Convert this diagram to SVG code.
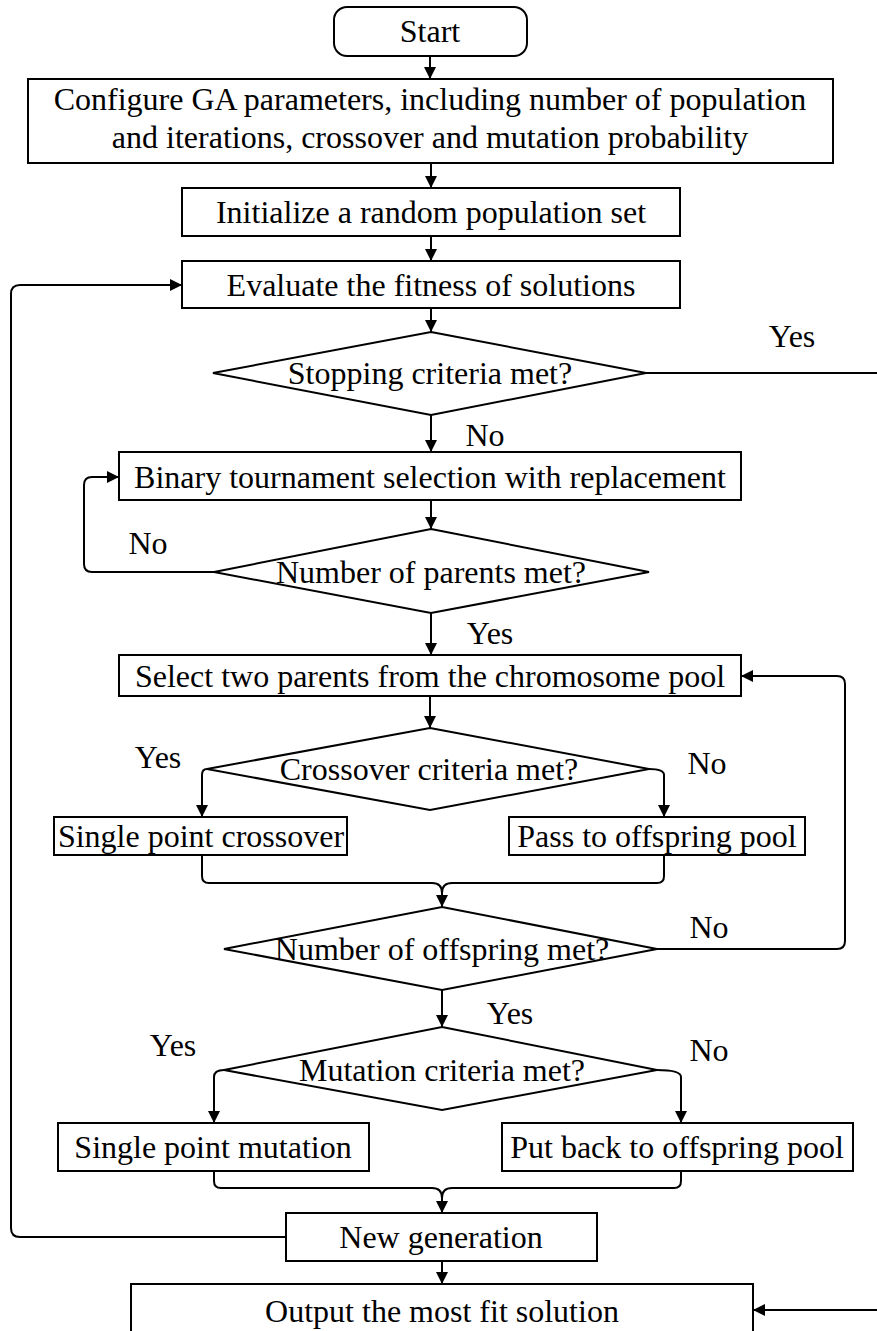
<svg xmlns="http://www.w3.org/2000/svg" width="877" height="1331" viewBox="0 0 877 1331">
  <style>
    .box { fill: #fff; stroke: #000; stroke-width: 2; }
    .edge { fill: none; stroke: #000; stroke-width: 2; }
    text { font-family: "Liberation Serif", "Times New Roman", serif; font-size: 32px; fill: #000; text-anchor: middle; }
  </style>
  <defs>
    <marker id="arrow" markerUnits="userSpaceOnUse" markerWidth="12" markerHeight="12" refX="12" refY="6" orient="auto">
      <path d="M0,0 L12,6 L0,12 Z" fill="#000"/>
    </marker>
  </defs>
  <rect width="877" height="1331" fill="#fff"/>

  <g id="connectors">
    <path class="edge" d="M430,56 V79" marker-end="url(#arrow)"/>
    <path class="edge" d="M431,163 V188" marker-end="url(#arrow)"/>
    <path class="edge" d="M431,236 V261" marker-end="url(#arrow)"/>
    <path class="edge" d="M431,308 V332" marker-end="url(#arrow)"/>
    <path class="edge" d="M431,415 V452" marker-end="url(#arrow)"/>
    <path class="edge" d="M431,500 V529" marker-end="url(#arrow)"/>
    <path class="edge" d="M431,613 V655" marker-end="url(#arrow)"/>
    <path class="edge" d="M430,696 V728" marker-end="url(#arrow)"/>
    <path class="edge" d="M442,990 V1027" marker-end="url(#arrow)"/>
    <path class="edge" d="M442,1261 V1284" marker-end="url(#arrow)"/>
    <!-- stopping: yes -> output -->
    <path class="edge" d="M646,373 H895 V1310 H753" marker-end="url(#arrow)"/>
    <!-- parents: no -> selection -->
    <path class="edge" d="M214,572 H92 Q84,572 84,564 V485 Q84,477 92,477 H119" marker-end="url(#arrow)"/>
    <!-- crossover branches -->
    <path class="edge" d="M207,769 Q202,769 202,775 V817" marker-end="url(#arrow)"/>
    <path class="edge" d="M649,769 Q664,769 664,775 V817" marker-end="url(#arrow)"/>
    <path class="edge" d="M202,855 V876 Q202,883 209,883 H432 Q442,883 442,893 V907" marker-end="url(#arrow)"/>
    <path class="edge" d="M664,855 V876 Q664,883 657,883 H452 Q442,883 442,893"/>
    <!-- offspring: no -> select -->
    <path class="edge" d="M657,949 H837 Q845,949 845,941 V684 Q845,676 837,676 H741" marker-end="url(#arrow)"/>
    <!-- mutation branches -->
    <path class="edge" d="M224,1070 Q214,1070 214,1077 V1123" marker-end="url(#arrow)"/>
    <path class="edge" d="M657,1070 Q681,1070 681,1077 V1123" marker-end="url(#arrow)"/>
    <path class="edge" d="M214,1171 V1181 Q214,1188 221,1188 H432 Q442,1188 442,1198 V1213" marker-end="url(#arrow)"/>
    <path class="edge" d="M681,1171 V1181 Q681,1188 674,1188 H452 Q442,1188 442,1198"/>
    <!-- new generation -> evaluate -->
    <path class="edge" d="M286,1237 H20 Q11,1237 11,1228 V294 Q11,285 20,285 H182" marker-end="url(#arrow)"/>
  </g>

  <g id="start">
    <rect class="box" x="334" y="7" width="193" height="49" rx="13"/>
    <text x="430" y="42">Start</text>
  </g>
  <g id="configure">
    <rect class="box" x="28" y="79" width="805" height="84"/>
    <text x="430" y="110">Configure GA parameters, including number of population</text>
    <text x="430" y="148">and iterations, crossover and mutation probability</text>
  </g>
  <g id="initialize">
    <rect class="box" x="182" y="188" width="498" height="48"/>
    <text x="431" y="223">Initialize a random population set</text>
  </g>
  <g id="evaluate">
    <rect class="box" x="182" y="261" width="498" height="47"/>
    <text x="431" y="296">Evaluate the fitness of solutions</text>
  </g>
  <g id="stopping">
    <polygon class="box" points="431,332 646,373 431,415 213,373"/>
    <text x="430" y="384">Stopping criteria met?</text>
    <text x="792" y="347">Yes</text>
    <text x="485" y="446">No</text>
  </g>
  <g id="binary">
    <rect class="box" x="119" y="452" width="622" height="48"/>
    <text x="430" y="488">Binary tournament selection with replacement</text>
  </g>
  <g id="parents">
    <polygon class="box" points="431,529 649,572 431,613 214,572"/>
    <text x="431" y="583">Number of parents met?</text>
    <text x="148" y="554">No</text>
    <text x="490" y="644">Yes</text>
  </g>
  <g id="select">
    <rect class="box" x="119" y="655" width="622" height="41"/>
    <text x="430" y="687">Select two parents from the chromosome pool</text>
  </g>
  <g id="crossover">
    <polygon class="box" points="430,728 649,769 430,810 207,769"/>
    <text x="429" y="780">Crossover criteria met?</text>
    <text x="158" y="768">Yes</text>
    <text x="707" y="774">No</text>
  </g>
  <g id="single-crossover">
    <rect class="box" x="54" y="817" width="293" height="38"/>
    <text x="201" y="847">Single point crossover</text>
  </g>
  <g id="pass">
    <rect class="box" x="509" y="817" width="296" height="38"/>
    <text x="657" y="847">Pass to offspring pool</text>
  </g>
  <g id="offspring">
    <polygon class="box" points="442,907 657,949 442,990 224,949"/>
    <text x="442" y="960">Number of offspring met?</text>
    <text x="709" y="938">No</text>
    <text x="510" y="1024">Yes</text>
  </g>
  <g id="mutation">
    <polygon class="box" points="442,1027 657,1070 442,1110 224,1070"/>
    <text x="442" y="1081">Mutation criteria met?</text>
    <text x="173" y="1056">Yes</text>
    <text x="709" y="1061">No</text>
  </g>
  <g id="single-mutation">
    <rect class="box" x="58" y="1123" width="311" height="48"/>
    <text x="213" y="1158">Single point mutation</text>
  </g>
  <g id="put-back">
    <rect class="box" x="502" y="1123" width="351" height="48"/>
    <text x="677" y="1158">Put back to offspring pool</text>
  </g>
  <g id="new-generation">
    <rect class="box" x="286" y="1213" width="311" height="48"/>
    <text x="441" y="1248">New generation</text>
  </g>
  <g id="output">
    <rect class="box" x="131" y="1284" width="622" height="60"/>
    <text x="442" y="1322">Output the most fit solution</text>
  </g>
</svg>
